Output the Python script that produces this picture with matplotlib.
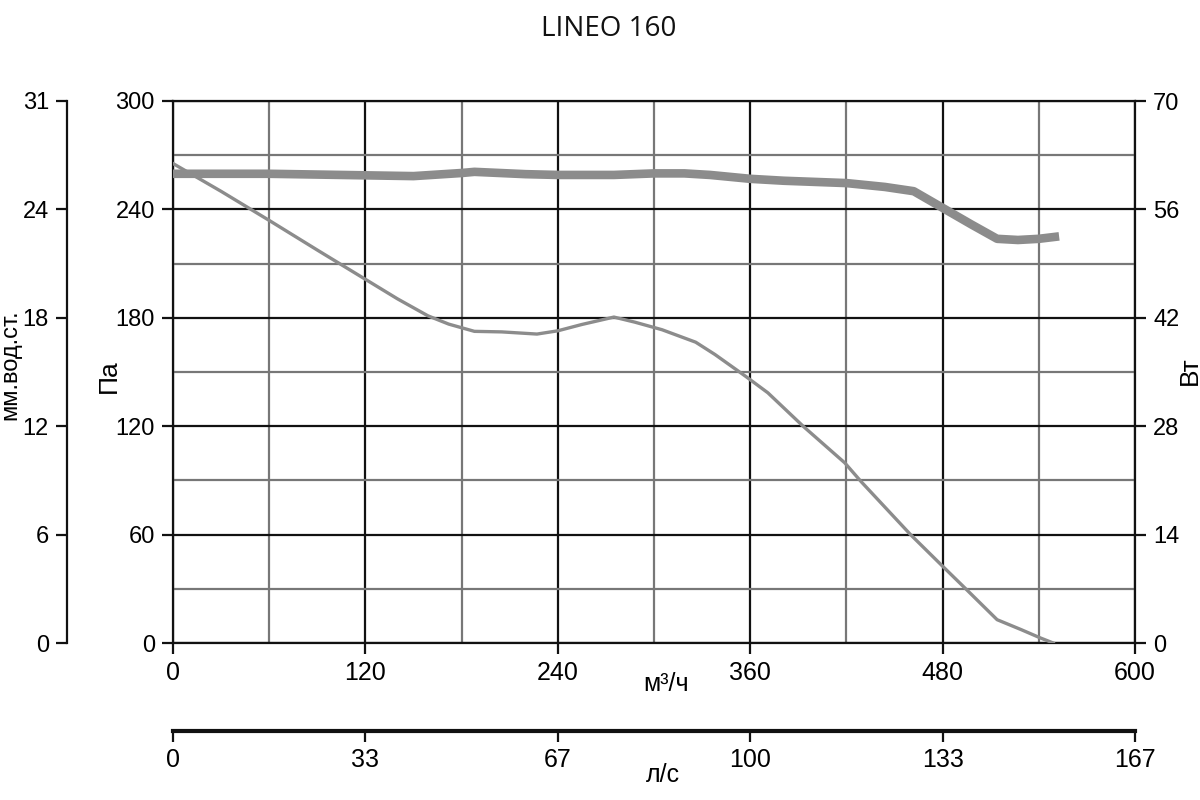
import matplotlib
matplotlib.use("Agg")
import matplotlib.pyplot as plt

plt.rcParams['font.family'] = ['Liberation Sans', 'DejaVu Sans']
NARROW = ['Liberation Sans Narrow', 'Liberation Sans', 'DejaVu Sans']

# ---- data ----
flow_ticks = [0, 120, 240, 360, 480, 600]          # m3/h
ls_labels = ['0', '33', '67', '100', '133', '167']  # l/s
pa_ticks = [0, 60, 120, 180, 240, 300]
mm_labels = ['0', '6', '12', '18', '24', '31']
w_ticks = [0, 14, 28, 42, 56, 70]

# pressure curve (Pa) vs flow (m3/h)
p_flow = [0, 30, 60, 90, 120, 140, 159, 172, 188, 205, 227, 240, 255, 275, 288, 305,
          326, 338, 357, 371, 393, 419, 429, 460, 480, 495, 514, 529, 541, 549]
p_pa = [265.4, 250, 233.9, 217.5, 201.3, 190.5, 181.1, 176.5, 172.5, 172.2, 171, 172.8,
        176.3, 180.4, 177.6, 173.4, 166.5, 159.7, 147.7, 138.5, 120, 99.7, 89.5, 60,
        42.5, 29.5, 12.9, 7.4, 2.8, 0]

# absorbed power (W) vs flow (m3/h)
w_flow = [0, 60, 120, 150, 180, 188, 220, 240, 275, 300, 319, 335, 360, 381, 420,
          444, 462, 480, 498, 514, 527, 540, 550]
w_val = [60.6, 60.6, 60.4, 60.3, 60.7, 60.85, 60.55, 60.45, 60.45, 60.65, 60.65, 60.45,
         59.95, 59.7, 59.4, 58.9, 58.35, 56.2, 54.05, 52.2, 52.05, 52.2, 52.45]

# ---- figure ----
fig = plt.figure(figsize=(12, 8), dpi=100)
L, B, W, H = 173/1200, 1-643/800, (1135-173)/1200, (643-101)/800

line_col = '#8c8c8c'
dark = '#111111'
light = '#777777'

ax = fig.add_axes([L, B, W, H])
ax.set_xlim(0, 600)
ax.set_ylim(0, 300)
ax.set_xticks(flow_ticks)
ax.set_yticks(pa_ticks)
ax.set_xticks([60, 180, 300, 420, 540], minor=True)
ax.set_yticks([30, 90, 150, 210, 270], minor=True)
ax.grid(which='major', color=dark, lw=1.6)
ax.grid(which='minor', color=light, lw=1.6)
ax.set_axisbelow(True)
ax.tick_params(which='minor', length=0)
ax.tick_params(which='major', direction='out', length=8, width=1.6, color=dark,
               labelsize=17, pad=5)
for lab in ax.get_xticklabels():
    lab.set_family(NARROW)
    lab.set_fontsize(18)
for s in ax.spines.values():
    s.set_color(dark)
    s.set_linewidth(1.6)
ax.plot(p_flow, p_pa, color=line_col, lw=2.4, zorder=3, solid_joinstyle='round')

ax2 = ax.twinx()
ax2.set_ylim(0, 70)
ax2.set_yticks(w_ticks)
ax2.tick_params(direction='out', length=8, width=1.6, color=dark, labelsize=17, pad=5)
for s in ax2.spines.values():
    s.set_visible(False)
ax2.plot(w_flow, w_val, color=line_col, lw=6.2, zorder=3, solid_joinstyle='round')

# left outer mm w.c. axis
ax3 = fig.add_axes([67/1200, B, 0.0001, H])
ax3.patch.set_visible(False)
for k in ['top', 'right', 'bottom']:
    ax3.spines[k].set_visible(False)
ax3.spines['left'].set_linewidth(1.6)
ax3.spines['left'].set_color(dark)
ax3.set_ylim(0, 300)
ax3.set_yticks(pa_ticks)
ax3.set_yticklabels(mm_labels)
ax3.set_xticks([])
ax3.tick_params(direction='out', length=8, width=1.6, color=dark, labelsize=17, pad=5)

# bottom l/s axis
ax4 = fig.add_axes([L, 1-731/800, W, 0.0001])
ax4.patch.set_visible(False)
for k in ['top', 'right', 'left']:
    ax4.spines[k].set_visible(False)
ax4.spines['bottom'].set_linewidth(3)
ax4.spines['bottom'].set_color(dark)
ax4.set_xlim(0, 600)
ax4.set_xticks(flow_ticks)
ax4.set_xticklabels(ls_labels, family=NARROW, fontsize=18)
ax4.set_yticks([])
ax4.tick_params(direction='out', length=8, width=1.6, color=dark, pad=4)

# texts
fig.text(609/1200, 1-29/800, 'LINEO 160', ha='center', va='center', fontsize=20,
         color='#111111', family=['Open Sans', 'Liberation Sans'])
fig.text(666/1200, 1-684/800, 'м³/ч', ha='center', va='center', fontsize=18, family=NARROW)
fig.text(663/1200, 1-775/800, 'л/с', ha='center', va='center', fontsize=18, family=NARROW)
fig.text(109/1200, 1-376/800, 'Па', ha='center', va='center', rotation=90, fontsize=19)
fig.text(1190/1200, 1-371/800, 'Вт', ha='center', va='center', rotation=90, fontsize=19)
fig.text(10/1200, 1-365/800, 'мм.вод.ст.', ha='center', va='center', rotation=90, fontsize=17)

fig.savefig('out.png', dpi=100)
